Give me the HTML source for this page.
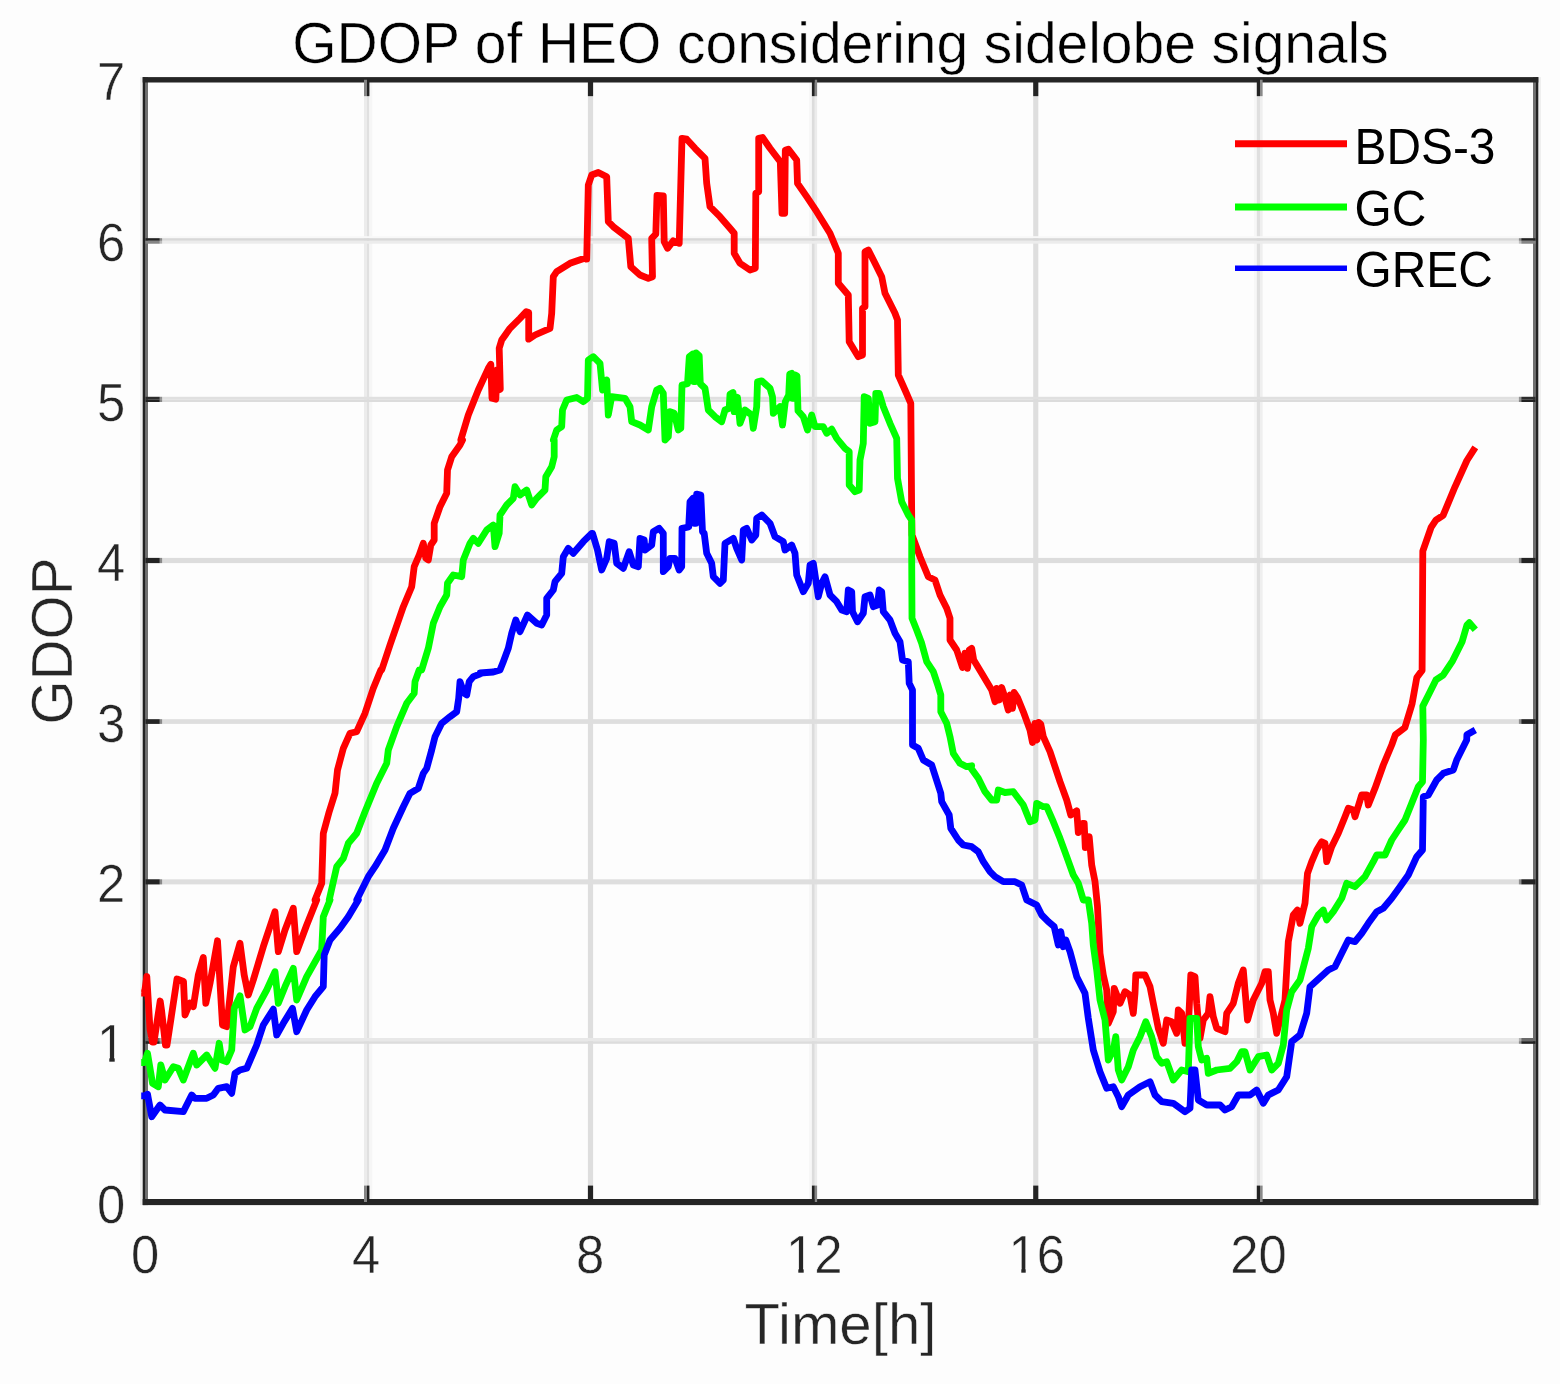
<!DOCTYPE html>
<html lang="en"><head><meta charset="utf-8"><title>GDOP of HEO considering sidelobe signals</title>
<style>
html,body{margin:0;padding:0;background:#fdfdfd;}
body{width:1560px;height:1384px;overflow:hidden;}
svg{display:block;}
text{font-family:"Liberation Sans",Arial,Helvetica,sans-serif;stroke:#fdfdfd;stroke-width:0.5px;paint-order:fill stroke;}
.tk{font-size:53.5px;fill:#262626;}
.lb{font-size:56.7px;fill:#262626;}
.tt{font-size:57px;fill:#000;letter-spacing:-0.05px;}
.lg{font-size:50.2px;fill:#000;stroke:none;}
.c{fill:none;stroke-width:6.8;stroke-linejoin:round;stroke-linecap:butt;}
</style></head><body>
<svg width="1560" height="1384" viewBox="0 0 1560 1384">
<rect x="0" y="0" width="1560" height="1384" fill="#fdfdfd"/>
<g>
<rect x="364" y="79.75" width="3.00" height="1122.25" fill="#ececec"/>
<rect x="367" y="79.75" width="2.40" height="1122.25" fill="#e0e0e0"/>
<rect x="369.4" y="79.75" width="2.80" height="1122.25" fill="#f6f6f6"/>
<rect x="587.9" y="79.75" width="5.20" height="1122.25" fill="#dedede"/>
<rect x="809" y="79.75" width="2.90" height="1122.25" fill="#f7f7f7"/>
<rect x="811.9" y="79.75" width="2.90" height="1122.25" fill="#dcdcdc"/>
<rect x="814.8" y="79.75" width="2.30" height="1122.25" fill="#ececec"/>
<rect x="1033.2" y="79.75" width="5.10" height="1122.25" fill="#dedede"/>
<rect x="1253.9" y="79.75" width="2.90" height="1122.25" fill="#f7f7f7"/>
<rect x="1256.8" y="79.75" width="3.20" height="1122.25" fill="#dfdfdf"/>
<rect x="1260" y="79.75" width="2.60" height="1122.25" fill="#efefef"/>
<rect x="145.5" y="236.2" width="1390" height="2.00" fill="#f8f8f8"/>
<rect x="145.5" y="238.2" width="1390" height="2.60" fill="#d8d8d8"/>
<rect x="145.5" y="240.8" width="1390" height="2.90" fill="#ececec"/>
<rect x="145.5" y="396.8" width="1390" height="2.60" fill="#e0e0e0"/>
<rect x="145.5" y="399.4" width="1390" height="2.60" fill="#dcdcdc"/>
<rect x="145.5" y="557.9" width="1390" height="5.20" fill="#dddddd"/>
<rect x="145.5" y="719.2" width="1390" height="4.70" fill="#dedede"/>
<rect x="145.5" y="879.3" width="1390" height="5.10" fill="#dedede"/>
<rect x="145.5" y="1038" width="1390" height="3.20" fill="#e8e8e8"/>
<rect x="145.5" y="1041.2" width="1390" height="2.60" fill="#dcdcdc"/>
</g>
<g>
<rect x="140" y="77.1" width="2.8" height="1128" fill="#efefef"/>
<rect x="1538.2" y="77.1" width="2.8" height="1128" fill="#efefef"/>
<rect x="145.3" y="77.1" width="2.7" height="1128" fill="#707070"/>
<rect x="1533" y="77.1" width="2.7" height="1128" fill="#707070"/>
<rect x="142.7" y="77.1" width="2.7" height="1128" fill="#222222"/>
<rect x="1535.6" y="77.1" width="2.7" height="1128" fill="#222222"/>
<rect x="142.7" y="77.1" width="1395.6" height="5.4" fill="#252525"/>
<rect x="142.7" y="1199" width="1395.6" height="6.1" fill="#252525"/>
</g>
<g>
<rect x="364" y="1185.6" width="3.00" height="16.4" fill="#858585"/>
<rect x="364" y="79.75" width="3.00" height="16.4" fill="#858585"/>
<rect x="367" y="1185.6" width="2.40" height="16.4" fill="#222222"/>
<rect x="367" y="79.75" width="2.40" height="16.4" fill="#222222"/>
<rect x="587.9" y="1185.6" width="5.20" height="16.4" fill="#242424"/>
<rect x="587.9" y="79.75" width="5.20" height="16.4" fill="#242424"/>
<rect x="811.9" y="1185.6" width="2.90" height="16.4" fill="#222222"/>
<rect x="811.9" y="79.75" width="2.90" height="16.4" fill="#222222"/>
<rect x="814.8" y="1185.6" width="2.30" height="16.4" fill="#858585"/>
<rect x="814.8" y="79.75" width="2.30" height="16.4" fill="#858585"/>
<rect x="1033.2" y="1185.6" width="5.10" height="16.4" fill="#242424"/>
<rect x="1033.2" y="79.75" width="5.10" height="16.4" fill="#242424"/>
<rect x="1256.8" y="1185.6" width="3.20" height="16.4" fill="#222222"/>
<rect x="1256.8" y="79.75" width="3.20" height="16.4" fill="#222222"/>
<rect x="1260" y="1185.6" width="2.60" height="16.4" fill="#8a8a8a"/>
<rect x="1260" y="79.75" width="2.60" height="16.4" fill="#8a8a8a"/>
<rect x="145.5" y="238.2" width="14.2" height="2.60" fill="#222222"/>
<rect x="159.7" y="238.2" width="2.4" height="2.60" fill="#222222" fill-opacity="0.45"/>
<rect x="1521.3" y="238.2" width="14.2" height="2.60" fill="#222222"/>
<rect x="1518.9" y="238.2" width="2.4" height="2.60" fill="#222222" fill-opacity="0.45"/>
<rect x="145.5" y="240.8" width="14.2" height="2.90" fill="#858585"/>
<rect x="159.7" y="240.8" width="2.4" height="2.90" fill="#858585" fill-opacity="0.45"/>
<rect x="1521.3" y="240.8" width="14.2" height="2.90" fill="#858585"/>
<rect x="1518.9" y="240.8" width="2.4" height="2.90" fill="#858585" fill-opacity="0.45"/>
<rect x="145.5" y="396.8" width="14.2" height="2.60" fill="#2c2c2c"/>
<rect x="159.7" y="396.8" width="2.4" height="2.60" fill="#2c2c2c" fill-opacity="0.45"/>
<rect x="1521.3" y="396.8" width="14.2" height="2.60" fill="#2c2c2c"/>
<rect x="1518.9" y="396.8" width="2.4" height="2.60" fill="#2c2c2c" fill-opacity="0.45"/>
<rect x="145.5" y="399.4" width="14.2" height="2.60" fill="#222222"/>
<rect x="159.7" y="399.4" width="2.4" height="2.60" fill="#222222" fill-opacity="0.45"/>
<rect x="1521.3" y="399.4" width="14.2" height="2.60" fill="#222222"/>
<rect x="1518.9" y="399.4" width="2.4" height="2.60" fill="#222222" fill-opacity="0.45"/>
<rect x="145.5" y="557.9" width="14.2" height="5.20" fill="#242424"/>
<rect x="159.7" y="557.9" width="2.4" height="5.20" fill="#242424" fill-opacity="0.45"/>
<rect x="1521.3" y="557.9" width="14.2" height="5.20" fill="#242424"/>
<rect x="1518.9" y="557.9" width="2.4" height="5.20" fill="#242424" fill-opacity="0.45"/>
<rect x="145.5" y="719.2" width="14.2" height="4.70" fill="#242424"/>
<rect x="159.7" y="719.2" width="2.4" height="4.70" fill="#242424" fill-opacity="0.45"/>
<rect x="1521.3" y="719.2" width="14.2" height="4.70" fill="#242424"/>
<rect x="1518.9" y="719.2" width="2.4" height="4.70" fill="#242424" fill-opacity="0.45"/>
<rect x="145.5" y="879.3" width="14.2" height="5.10" fill="#242424"/>
<rect x="159.7" y="879.3" width="2.4" height="5.10" fill="#242424" fill-opacity="0.45"/>
<rect x="1521.3" y="879.3" width="14.2" height="5.10" fill="#242424"/>
<rect x="1518.9" y="879.3" width="2.4" height="5.10" fill="#242424" fill-opacity="0.45"/>
<rect x="145.5" y="1038" width="14.2" height="3.20" fill="#6a6a6a"/>
<rect x="159.7" y="1038" width="2.4" height="3.20" fill="#6a6a6a" fill-opacity="0.45"/>
<rect x="1521.3" y="1038" width="14.2" height="3.20" fill="#6a6a6a"/>
<rect x="1518.9" y="1038" width="2.4" height="3.20" fill="#6a6a6a" fill-opacity="0.45"/>
<rect x="145.5" y="1041.2" width="14.2" height="2.60" fill="#222222"/>
<rect x="159.7" y="1041.2" width="2.4" height="2.60" fill="#222222" fill-opacity="0.45"/>
<rect x="1521.3" y="1041.2" width="14.2" height="2.60" fill="#222222"/>
<rect x="1518.9" y="1041.2" width="2.4" height="2.60" fill="#222222" fill-opacity="0.45"/>
</g>
<polyline class="c" stroke="#ff0000" points="141.2,993 144.5,993 146.8,976.5 150,1029 152.5,1042 154,1042 160.2,1001 161.5,1010 165.5,1045 167,1045 177,979 183.5,981.5 185,1015 190,1003 193.3,1006.7 198.3,975 203.3,957.5 205.8,1003.3 210,983.3 217.5,940.8 220,983.3 222.5,1025 226.7,1026.7 233.3,966.7 240,943.3 244.2,975 248.3,995 253.3,980 263.3,946.7 275,911.7 278.3,951.7 285,930 293.3,908.3 296.7,951.7 306.7,925 316.7,900 315,900 321.7,883.3 323.3,833.3 329.2,811.7 335,793.3 337.5,770 343.3,748.3 350,733.3 356.7,731.7 365,713.3 373.3,688.3 380.8,670 381.7,670 390,645 403.3,606.7 411.7,586.7 414.2,566.7 419.2,555 423.3,543.3 425.8,558.3 428.3,560 430.8,545 434.2,540 434.2,523.3 440,506.7 446.7,493.3 447.5,470 451.7,456.7 460,445 462.5,440 460.8,440 468.3,415 478.3,390 488.3,368.3 490.8,364.2 492,398.3 495.8,399.2 497.2,370 498.7,390 500.3,389.2 499.2,348.3 501.7,340 510,328.3 520,318.3 526.3,311.7 528.7,312.5 528.7,339.2 535,335 550,328.3 551.7,313.3 553.3,276.7 556.7,271.7 570,263.3 586.7,257.5 586.7,259.2 588.3,185 591.7,175 598.3,172.5 606.7,176.7 608.3,221.7 613.3,226.7 628.3,238.3 630.8,266.7 640,275 648.3,278.3 652.5,276.7 651.7,238.3 655.8,234.2 657,195.3 663.3,195.8 664.2,241.7 667.5,248.3 673.3,240.8 679.2,243.3 682,138.3 686.7,139.2 695,148.3 705,158.3 706.7,183.3 710,206.7 720,216.7 730,228.3 734.2,233.3 734.2,253.3 740,263.3 750,270 755.3,268.3 755.8,193.3 758.7,191.7 758.7,138.3 762.5,137.5 770,148.3 780.3,161.7 782,213.3 784.7,213.3 785.3,150.3 788.3,149.2 796.7,160 797.5,183.3 806.7,196.7 816.7,211.7 830,233.3 838.3,253.3 838.3,283.3 848.3,295 849.2,341.7 858.3,356.7 862.5,355 862.5,308.3 865,306.7 865,251.7 868.3,250 875,263.3 881.7,276.7 885,293.3 895,313.3 897.5,320 898.3,375 898.3,375 905,390 910.8,403.3 911.7,516.7 912,535 920,556.7 928.3,576.7 935,580 940,595 946.7,608.3 950,618.3 950,640 956.7,650 962.5,667.5 965,653.3 967.5,668.3 969.2,650 971.7,648.3 973.7,660 981.7,673.3 991.7,690 995,701.7 996.7,688.3 999.2,700 1001.7,687.5 1004.2,695 1008.3,710 1010.3,695 1012.5,708.3 1014.2,692.5 1017.5,697.5 1023.3,711.7 1030,730 1032.5,742.5 1035,723.3 1037,740 1038.7,722.5 1040.8,724.2 1043.3,736.7 1050,751.7 1060,781.7 1066.7,800 1070.8,815 1076.7,810.8 1078.3,832.5 1082.5,823.3 1084.2,823.3 1085.3,847.5 1089.2,836.7 1091.7,865 1095,881.7 1097.5,906.7 1100,953.3 1103.3,975 1106.7,990 1108.3,1023.3 1113.3,1011.7 1114.2,988.3 1120,1003.3 1125,991.7 1130,995 1133.3,1013.3 1135,993.3 1135.8,975 1145,975 1150,986.7 1153.3,1003.3 1158.3,1028.3 1163.3,1043.3 1166.7,1020 1171.7,1021.7 1176.7,1033.3 1178.3,1010 1181.7,1013.3 1185,1043.3 1188.3,1026.7 1190.8,975 1195,976.7 1196.7,1003.3 1200,1038.3 1203.3,1020 1208.3,1013.3 1210,996.7 1213.3,1016.7 1216.7,1028.3 1225,1031.7 1226.7,1013.3 1233.3,1003.3 1238.3,983.3 1243.3,970 1247.5,1020 1253.3,1000 1261.7,983.3 1265,971.7 1268.3,971.7 1270,1000 1273.3,1013.3 1276.7,1033.3 1280,1020 1285,1000 1288.3,941.7 1293.3,915 1297.5,910 1300,923.3 1305,903.3 1307.5,873.3 1311.7,861.7 1316.7,850 1321.7,841.7 1325,843.3 1326.7,861.7 1331.7,846.7 1338.3,833.3 1345,816.7 1348.3,808.3 1353.3,810 1355,816.7 1361.7,795 1366.7,795 1368.3,805 1375,788.3 1383.3,765 1391.7,745 1395.4,734.7 1404.9,727.6 1412.1,703.7 1416.8,677.5 1422.1,670.4 1422.8,551.1 1431.1,527.3 1435.9,520.1 1443.1,515.4 1455,486.8 1466.9,460.5 1475.3,447.4"/>
<polyline class="c" stroke="#00ff00" points="141.2,1062.5 144.5,1062.5 147.5,1053.3 152.5,1083.3 158.3,1086.7 160.8,1065 165,1080 173.3,1066.7 178.3,1068.3 183.3,1080 193.3,1053.3 196.7,1065 206.7,1055 215,1068.3 219.2,1043.3 221.7,1060 226.7,1061.7 231.7,1050 234.2,1008.3 240,995.8 245,1030 250,1026.7 256.7,1008.3 266.7,990 275,971.7 278.3,1003.3 285,986.7 293.3,968.3 296.7,1000 306.7,976.7 321.7,950 323.3,916.7 330,900 329.2,900 336.7,866.7 343.3,858.3 348.3,843.3 356.7,833.3 365,811.7 376.7,783.3 386.7,763.3 388.3,750 396.7,726.7 406.7,703.3 414.2,693.3 415,681.7 419.2,670 421.7,670 428.3,648.3 433.3,623.3 440,606.7 446.7,595 447.5,583.3 453.3,575 461.7,576.7 463.3,560 470,543.3 473.3,538.3 478.3,543.3 486.7,530 493.3,525 495,546.7 499.2,533.3 500,515 506.7,505 513.3,498.3 515,486.7 520,495 526.7,490 531.7,505 536.7,498.3 545,490 545.8,476.7 551.7,466.7 554.2,456.7 554.2,440 553.3,440 556.7,430 561.7,426.7 562.5,410 566.7,400 576.7,397.5 583.3,401.7 587.5,398.3 588.3,360 593.3,356.7 600,363.3 602.5,390 606.7,380 608.3,415 611.7,396.7 625,398.3 630,406.7 631.7,421.7 640,425 648.3,430 651.7,406.7 656.7,390 660,388.3 663.3,393.3 665,440 668.3,436.7 670,411.7 674.2,413.3 678.3,430 680.8,428.3 682,385 687.5,383.7 689.3,356.7 692.5,354.2 693.7,381.7 695.3,381.7 696.2,353 699.2,355.8 700.3,383.7 705,388.3 708.3,410 715,416.7 721.7,421.7 725,410 729.2,408.3 730,394.2 733,392.5 734.2,411.7 735.3,396.7 737.5,397.5 740,423.3 745,410 751.7,415 753.3,428.3 756.7,406.7 757.5,381.7 761.7,380.8 770,388.3 772.5,396.7 773.3,413.3 780,406.7 782.5,425 785.3,401.7 788.7,395 789.7,374.2 791.7,373.3 792.7,398.3 794.3,398.3 795,375 797,375.8 798,410.8 803.3,416.7 807.5,430 811.7,415 815,426.7 823.3,426.7 826.7,433.3 831.7,429.2 836.7,438.3 845,448.3 849.2,451.7 849.2,485 855,491.7 859.2,490 860,460 863.3,443.3 864.2,396.7 868.3,398.3 870,423.3 875,421.7 875.8,393.3 879.2,393.3 883.3,406.7 890,423.3 896.7,438.3 897.5,478.3 901.7,501.7 908.3,515 911.7,520 911.7,560 912,618.3 916.7,630 921.7,643.3 926.7,661.7 933.3,671.7 938.3,686.7 940.8,695 940.8,711.7 946.7,723.3 950,736.7 953.3,753.3 960,763.3 966.7,766.7 971.7,765.8 970,766.7 978.3,778.3 985,791.7 991.7,800 996.7,800 998.3,790 1005,792.5 1013.3,791.7 1023.3,805 1030,821.7 1035,820 1036.7,803.3 1043.3,806.7 1046.7,806.7 1053.3,821.7 1060,838.3 1066.7,856.7 1073.3,875 1078.3,883.3 1083.3,900 1088.3,900 1091.7,923.3 1093.3,945 1096.7,970 1100,1000 1105,1020 1108.3,1060 1113.3,1050 1115.8,1036.7 1118.3,1070 1121.7,1080 1128.3,1066.7 1133.3,1050 1140,1036.7 1145.8,1021.7 1151.7,1036.7 1156.7,1056.7 1161.7,1063.3 1166.7,1061.7 1173.3,1080 1181.7,1070 1188.3,1071.7 1190,1018.3 1196.7,1018.3 1198.3,1046.7 1201.7,1060 1206.7,1058.3 1208.3,1073.3 1216.7,1070 1230,1068.3 1236.7,1061.7 1241.7,1051.7 1245,1051.7 1250,1070 1258.3,1056.7 1266.7,1055 1271.7,1070 1278.3,1063.3 1283.3,1045 1286.7,1010 1291.7,991.7 1300,980 1308.3,948.3 1311.7,926.7 1318.3,915 1323.3,910 1326.7,920 1333.3,911.7 1341.7,898.3 1346.7,883.3 1355,886.7 1365,876.7 1373.3,861.7 1376.7,855 1385,855 1391.7,840 1398.3,830 1405,820 1411.7,803.3 1418.3,786.7 1422.5,781.7 1423.3,740 1422.8,706.1 1428.8,694.2 1435.9,679.9 1443.1,675.1 1452.6,660.8 1462.1,641.7 1466.9,625.1 1469.3,622.7 1475.3,629.8"/>
<polyline class="c" stroke="#0000ff" points="141.2,1095.8 144.5,1095.8 147.5,1094.2 151.7,1116.7 160,1105 165,1110 183.3,1111.7 191.7,1095 195,1098.3 206.7,1098.3 213.3,1095 218.3,1088.3 226.7,1086.7 231.7,1093.3 235,1073.3 240,1070 246.7,1068.3 256.7,1045 263.3,1025 273.3,1009.2 276.7,1035 283.3,1023.3 292.5,1008.3 296.7,1031.7 306.7,1010 315,996.7 323.3,986.7 324.2,955 330,940 340,928.3 348.3,916.7 358.3,900 356.7,900 368.3,876.7 375,866.7 385,850 393.3,828.3 403.3,806.7 410,793.3 418.3,788.3 423.3,773.3 426.7,768.3 431.7,750 435,736.7 441.7,723.3 450,716.7 456.7,711.7 458.7,698.3 460,681.7 464.2,693.3 466.7,695 469.2,681.7 473.3,676.7 481.7,673.3 480,673 493.3,672 500,670 503.3,661.7 508.3,648.3 511.7,633.3 515.8,620 520,631.7 527.5,615 536.7,623.3 541.7,625 546.7,615 546.7,598.3 553.3,590 555,581.7 561.7,573.3 563.3,556.7 568.3,548.3 573.3,553.3 583.3,541.7 591.7,533.3 592.5,533.3 597.5,550 601.7,570 606.7,558.3 609.2,541.7 614.2,543.3 616.7,563.3 623.3,568.3 629.2,551.7 633.3,565 638.3,566.7 640,538.3 644.2,540 645,550 651.7,545 653.3,531.7 659.2,528.3 663.3,533.3 663.3,571.7 668.3,566.7 670,558.3 675,558.3 679.2,570 681.7,566.7 682,528.3 688.7,527 690,501.7 693,498.3 694.2,523.3 695.8,523.3 696.7,494.2 700.8,495 702.5,531.7 704.2,533.3 706.7,553.3 711.7,563.3 713.3,576.7 720,583.3 723.3,580 725,543.3 733.3,538.3 736.7,548.3 741.7,560 743.3,530 746.7,528.3 751.7,540 755.8,535 756.7,518.3 761.7,515 770,523.3 775,536.7 783.3,541.7 785,550 791.7,545 795,553.3 796.7,575 803.3,591.7 808.3,583.3 810,565 813.3,563.3 818.3,596.7 821.7,583.3 825,576.7 830,595 836.7,601.7 841.7,610 846.7,611.7 848.3,590 851.7,591.7 852.5,611.7 857.5,621.7 863.3,613.3 865,596.7 870,595 873.3,606.7 877.5,605 879.2,590 881.7,591.7 883.3,611.7 890,620 895,633.3 900,641.7 902.5,660 908.3,661.7 909.2,683.3 912.5,690 912.5,745 918.3,748.3 923.3,760 931.7,765 940.8,793.3 941.7,801.7 949.2,815 950.8,828.3 958.3,840 963.3,845 971.7,846.7 978.3,851.7 983.3,861.7 990,871.7 995,876.7 1003.3,881.7 1015,881.7 1021.7,885 1026.7,900 1036.7,905 1041.7,915 1048.3,921.7 1054.2,926.7 1058.3,945 1060.8,931.7 1063.3,946.7 1065.8,940 1070,951.7 1076.7,976.7 1085,993.3 1088.3,1018.3 1093.3,1050 1100,1071.7 1106.7,1088.3 1113.3,1086.7 1118.3,1096.7 1121.7,1106.7 1128.3,1095 1140,1086.7 1150,1081.7 1155,1095 1161.7,1101.7 1173.3,1103.3 1185,1111.7 1190,1108.3 1191.7,1070 1195,1070 1198.3,1100 1206.7,1105 1220,1105 1225,1110 1231.7,1106.7 1238.3,1095 1250,1095 1256.7,1090 1263.3,1103.3 1268.3,1095 1278.3,1090 1286.7,1076.7 1291.7,1041.7 1300,1035 1306.7,1013.3 1310,986.7 1328.3,970 1335,966.7 1341.7,953.3 1348.3,940 1355,941.7 1361.7,933.3 1368.3,923.3 1376.7,911.7 1383.3,908.3 1391.7,898.3 1400,886.7 1408.3,875 1416.7,856.7 1422.5,850 1423.3,796.7 1428.3,795 1436.7,780 1443.3,773.3 1453.3,770 1456.7,760 1461.7,750 1466.7,740 1466.9,734.7 1475.3,730"/>
<line x1="1235" y1="143.8" x2="1347" y2="143.8" stroke="#ff0000" stroke-width="6.9"/>
<line x1="1235" y1="207" x2="1347" y2="207" stroke="#00ff00" stroke-width="6.9"/>
<line x1="1235" y1="268.3" x2="1347" y2="268.3" stroke="#0000ff" stroke-width="5.6"/>
<text class="lg" transform="translate(1354.6,164.3) scale(0.953,1)">BDS-3</text>
<text class="lg" transform="translate(1354.6,225.6) scale(0.953,1)">GC</text>
<text class="lg" transform="translate(1354.6,287.1) scale(0.953,1)">GREC</text>
<text class="tk" transform="translate(145,1272.6) scale(0.95,1)" text-anchor="middle">0</text>
<text class="tk" transform="translate(366,1272.6) scale(0.95,1)" text-anchor="middle">4</text>
<text class="tk" transform="translate(590,1272.6) scale(0.95,1)" text-anchor="middle">8</text>
<text class="tk" transform="translate(814.2,1272.6) scale(0.95,1)" text-anchor="middle">12</text>
<text class="tk" transform="translate(1036.8,1272.6) scale(0.95,1)" text-anchor="middle">16</text>
<text class="tk" transform="translate(1258.6,1272.6) scale(0.95,1)" text-anchor="middle">20</text>
<text class="tk" transform="translate(125.3,100.35) scale(0.95,1)" text-anchor="end">7</text>
<text class="tk" transform="translate(125.3,260.6) scale(0.95,1)" text-anchor="end">6</text>
<text class="tk" transform="translate(125.3,420.6) scale(0.95,1)" text-anchor="end">5</text>
<text class="tk" transform="translate(125.3,580.9) scale(0.95,1)" text-anchor="end">4</text>
<text class="tk" transform="translate(125.3,741.8) scale(0.95,1)" text-anchor="end">3</text>
<text class="tk" transform="translate(125.3,902.4) scale(0.95,1)" text-anchor="end">2</text>
<text class="tk" transform="translate(125.3,1061.6) scale(0.95,1)" text-anchor="end">1</text>
<text class="tk" transform="translate(125.3,1222.6) scale(0.95,1)" text-anchor="end">0</text>
<rect x="99" y="1057.6" width="10.3" height="5" fill="#fdfdfd"/>
<rect x="114.7" y="1057.6" width="9.8" height="5" fill="#fdfdfd"/>
<rect x="788" y="1268.6" width="10.3" height="5" fill="#fdfdfd"/>
<rect x="803.7" y="1268.6" width="9.8" height="5" fill="#fdfdfd"/>
<rect x="1010" y="1268.6" width="11.3" height="5" fill="#fdfdfd"/>
<rect x="1025.7" y="1268.6" width="10.8" height="5" fill="#fdfdfd"/>
<text class="tt" x="840.5" y="63" text-anchor="middle">GDOP of HEO considering sidelobe signals</text>
<text class="lb" x="840.5" y="1343.7" text-anchor="middle" style="font-size:58.2px">Time[h]</text>
<text class="lb" transform="translate(71.5,641) rotate(-90)" text-anchor="middle">GDOP</text>
</svg></body></html>
